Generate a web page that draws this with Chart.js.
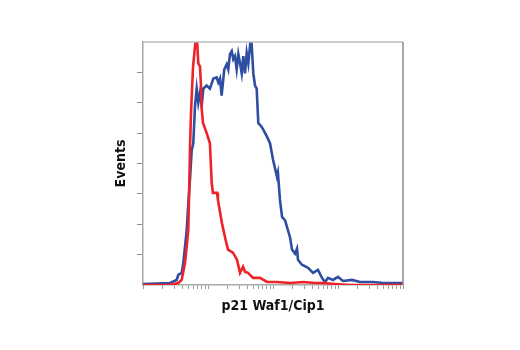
<!DOCTYPE html>
<html>
<head>
<meta charset="utf-8">
<script src="https://cdn.jsdelivr.net/npm/chart.js@4"></script>
<style>
    body { margin: 0; background: #ffffff; }
</style>
</head>
<body>
<canvas id="grafica" width="520" height="350"></canvas>
<script>

// DATOS

// intensidad (escala log) y eventos, control (rojo)
const redIntensity = [1, 2.6, 3.0, 3.49, 3.94, 4.43, 4.70, 4.97, 5.14, 5.29,
    5.48, 5.88, 6.31, 6.70, 7.09, 7.53, 7.80, 8.00, 8.38, 9.55,
    10.7, 11.4, 11.9, 13.8, 14.2, 16.4, 18.3, 20.3, 24.2, 27.9,
    31.1, 34.6, 37.1, 41.3, 49.2, 63.1, 80.9, 115, 183, 289,
    443, 588, 899, 1530, 10000];
const redEvents = [0, 0, 1, 2, 5, 22, 38, 54, 95, 137,
    170, 215, 236, 248, 219, 216, 197, 174, 160, 150,
    140, 101, 91, 91, 84, 61, 47, 35, 32, 25,
    12, 18, 13, 12, 7, 7, 3, 3, 2, 3,
    2, 2, 1, 0, 0];

// intensidad y eventos, p21 Waf1/Cip1 (azul)
const blueIntensity = [1, 2.6, 3.30, 3.49, 3.94, 4.17, 4.43, 4.70, 4.97, 5.29,
    5.61, 5.94, 6.31, 6.70, 7.09, 7.53, 8.00, 8.47, 9.55, 10.7,
    12.1, 13.6, 14.4, 15.3, 16.2, 17.8, 19.4, 20.5, 21.8, 23.2,
    24.5, 26.0, 27.6, 29.3, 31.1, 33.0, 34.9, 37.1, 39.4, 41.7,
    44.3, 45.9, 49.8, 52.9, 56.1, 59.4, 65.4, 70.2, 80.0, 89.9,
    100, 115, 119, 128, 138, 153, 183, 196, 218, 234,
    242, 279, 346, 413, 492, 567, 631, 702, 838, 1000,
    1194, 1642, 2180, 3455, 4924, 10000];
const blueEvents = [1, 2, 5, 10, 12, 22, 38, 54, 80, 105,
    133, 140, 177, 194, 180, 190, 177, 194, 197, 194,
    204, 205, 200, 204, 187, 213, 218, 213, 228, 231,
    223, 226, 213, 228, 219, 209, 226, 209, 229, 219,
    236, 248, 209, 197, 194, 160, 157, 154, 147, 140,
    124, 107, 111, 84, 67, 64, 47, 35, 31, 36,
    25, 20, 17, 12, 15, 7, 3, 7, 5, 8,
    4, 5, 3, 3, 2, 2];

// ejes
const xDecades = [1, 10, 100, 1000, 10000];
const yTickValues = [30, 60, 90, 120, 150, 180, 210];
const xTitle = 'p21 Waf1/Cip1';
const yTitle = 'Events';


// UTILIDADES

function toPoints(xs, ys) {
    return xs.map((x, i) => ({ x: x, y: ys[i] }));
}

const titleFont = {
    family: "'Liberation Sans Narrow', 'DejaVu Sans Condensed', 'Liberation Sans', Arial, sans-serif",
    size: 14,
    weight: 'bold',
    lineHeight: 1.2
};

// marco superior y derecho del area de la grafica
const marco = {
    id: 'marco',
    afterDatasetsDraw(chart) {
        const { ctx, chartArea: a } = chart;
        ctx.save();
        ctx.lineWidth = 1.5;
        ctx.strokeStyle = '#bcbcbc';
        ctx.beginPath();
        ctx.moveTo(a.left, a.top);
        ctx.lineTo(a.right, a.top);
        ctx.stroke();
        ctx.strokeStyle = '#8a8a8a';
        ctx.beginPath();
        ctx.moveTo(a.right, a.top);
        ctx.lineTo(a.right, a.bottom);
        ctx.stroke();
        ctx.restore();
    }
};


// GRAFICA

const ctx = document.getElementById('grafica').getContext('2d');

new Chart(ctx, {
    type: 'line',
    data: {
        datasets: [{
            data: toPoints(redIntensity, redEvents),
            borderColor: '#ee2229',
            borderWidth: 2.6,
            pointRadius: 0,
            tension: 0,
            clip: 0
        }, {
            data: toPoints(blueIntensity, blueEvents),
            borderColor: '#2f4ea2',
            borderWidth: 2.6,
            pointRadius: 0,
            tension: 0,
            clip: 0
        }]
    },
    options: {
        responsive: false,
        animation: false,
        layout: {
            padding: { left: 113, top: 42, right: 117, bottom: 35 }
        },
        plugins: {
            legend: { display: false },
            tooltip: { enabled: false }
        },
        scales: {
            x: {
                type: 'logarithmic',
                min: 1,
                max: 10000,
                afterBuildTicks(scale) {
                    const ticks = [];
                    xDecades.slice(0, -1).forEach(d => {
                        for (let k = 1; k <= 9; k++) ticks.push({ value: d * k });
                    });
                    ticks.push({ value: xDecades[xDecades.length - 1] });
                    scale.ticks = ticks;
                },
                afterFit(scale) { scale.height = 30; },
                ticks: { display: false },
                grid: {
                    drawOnChartArea: false,
                    drawTicks: true,
                    tickLength: 4,
                    color: '#9a9a9a',
                    lineWidth: 1
                },
                border: { display: true, color: '#a8a8a8', width: 1.5 },
                title: {
                    display: true,
                    text: xTitle,
                    color: '#111111',
                    font: titleFont,
                    padding: 0
                }
            },
            y: {
                min: 0,
                max: 240,
                afterBuildTicks(scale) {
                    scale.ticks = yTickValues.map(v => ({ value: v }));
                },
                afterFit(scale) { scale.width = 30; },
                ticks: { display: false },
                grid: {
                    drawOnChartArea: false,
                    drawTicks: true,
                    tickLength: 6,
                    color: '#8a8a8a',
                    lineWidth: 1
                },
                border: { display: true, color: '#a8a8a8', width: 1.5 },
                title: {
                    display: true,
                    text: yTitle,
                    color: '#111111',
                    font: titleFont,
                    padding: 0
                }
            }
        }
    },
    plugins: [marco]
});

</script>
</body>
</html>
